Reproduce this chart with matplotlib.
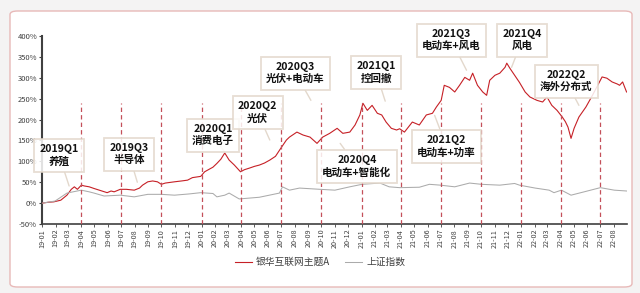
import matplotlib
matplotlib.use("Agg")
import matplotlib.pyplot as plt
import matplotlib.dates as mdates
from matplotlib.patches import FancyBboxPatch
import pandas as pd

plt.rcParams['font.family'] = ['Noto Sans CJK SC', 'DejaVu Sans']

# ---------------- data ----------------
fund_dates = ["2019-01-02","2019-01-15","2019-01-28","2019-02-13","2019-02-27","2019-03-09","2019-03-16","2019-03-23",
    "2019-04-01","2019-04-08","2019-04-19","2019-04-30","2019-05-12","2019-05-30","2019-06-08","2019-06-15","2019-06-29",
    "2019-07-13","2019-07-31","2019-08-12","2019-08-19","2019-08-31","2019-09-11","2019-09-22","2019-10-01","2019-10-10",
    "2019-10-31","2019-11-16","2019-11-30","2019-12-11","2019-12-30",
    "2020-01-08","2020-01-20","2020-01-27","2020-02-05","2020-02-14","2020-02-23","2020-03-04","2020-03-16","2020-03-30",
    "2020-04-08","2020-04-20","2020-05-01","2020-05-12","2020-05-24","2020-06-05","2020-06-18","2020-06-30","2020-07-13",
    "2020-07-20","2020-08-06","2020-08-20","2020-09-05","2020-09-21","2020-10-04","2020-10-20","2020-11-06","2020-11-19",
    "2020-12-05","2020-12-17","2020-12-28",
    "2021-01-04","2021-01-14","2021-01-25","2021-02-06","2021-02-16","2021-02-26","2021-03-10","2021-03-22","2021-03-29",
    "2021-04-09","2021-04-27","2021-05-13","2021-05-29","2021-06-12","2021-06-21","2021-07-02","2021-07-09","2021-07-21",
    "2021-08-02","2021-08-13","2021-08-25","2021-09-05","2021-09-12","2021-09-23","2021-10-05","2021-10-14","2021-10-21",
    "2021-11-02","2021-11-13","2021-11-25","2021-11-29","2021-12-06","2021-12-17","2021-12-28",
    "2022-01-10","2022-01-21","2022-02-06","2022-02-19","2022-03-01","2022-03-12","2022-03-24","2022-04-05","2022-04-12",
    "2022-04-18","2022-04-25","2022-05-02","2022-05-13","2022-05-29","2022-06-13","2022-06-29","2022-07-05","2022-07-16",
    "2022-07-28","2022-08-09","2022-08-14","2022-08-21","2022-08-30"]
fund_values = [0,2,3,7,19,33,39,33,
    43,41,39,35,31,25,29,27,33,
    33,31,36,43,51,53,51,45,48,
    51,53,55,61,64,
    75,82,86,95,105,120,103,91,75,
    80,84,88,91,96,103,112,131,151,
    158,170,163,158,143,158,167,179,167,
    170,187,211,
    239,222,234,215,211,194,179,175,178,
    170,194,187,211,215,230,246,282,277,
    266,282,301,294,311,282,266,258,294,
    306,311,325,335,323,306,289,
    266,254,246,242,254,234,222,206,195,
    182,155,179,206,230,258,290,302,299,
    290,285,282,290,266]

index_dates = ["2019-01-02","2019-01-31","2019-02-27","2019-04-01","2019-04-19","2019-04-30","2019-05-23","2019-06-29",
    "2019-07-31","2019-08-31","2019-10-01","2019-10-31","2019-12-04","2019-12-30","2020-01-27","2020-02-05","2020-02-23",
    "2020-03-04","2020-03-27","2020-05-12","2020-06-27","2020-07-04","2020-07-20","2020-08-12","2020-09-28","2020-11-01",
    "2020-12-05","2021-01-02","2021-02-12","2021-03-05","2021-03-29","2021-05-13","2021-06-05","2021-06-30","2021-08-02",
    "2021-09-05","2021-10-02","2021-11-13","2021-12-17","2021-12-28","2022-02-02","2022-03-06","2022-03-17","2022-04-03",
    "2022-04-25","2022-05-25","2022-07-01","2022-08-02","2022-08-30"]
index_values = [0,5,24,31,27,24,17,19,
    15,21,21,19,22,25,23,15,19,
    24,10,14,24,39,31,36,33,31,
    39,45,48,39,37,38,45,43,39,
    48,45,43,47,43,36,31,25,31,
    19,27,37,31,29]

quarter_lines = ["2019-04-01","2019-07-01","2019-10-01","2020-01-01","2020-04-01","2020-07-01","2020-10-01",
                 "2021-01-01","2021-04-01","2021-07-01","2021-10-01","2022-01-01","2022-04-01","2022-07-01"]

# annotations: label, box-centre date, box-centre value, pointer date, pointer value
ann_labels = ["2019Q1\n养殖","2019Q3\n半导体","2020Q1\n消费电子","2020Q2\n光伏","2020Q3\n光伏+电动车",
              "2021Q1\n控回撤","2020Q4\n电动车+智能化","2021Q2\n电动车+功率","2021Q3\n电动车+风电",
              "2021Q4\n风电","2022Q2\n海外分布式"]
ann_box_dates = ["2019-02-09","2019-07-19","2020-01-27","2020-05-08","2020-08-03","2021-02-03","2020-12-21",
                 "2021-07-14","2021-07-25","2022-01-03","2022-04-14"]
ann_box_vals = [115,117,162,217,311,313,88,136,390,390,292]
ann_pt_dates = ["2019-03-04","2019-08-07","2020-02-23","2020-06-05","2020-09-07","2021-02-24","2020-11-13",
                "2021-06-17","2021-08-29","2021-12-10","2022-05-13"]
ann_pt_vals = [41,50,122,151,246,244,143,210,318,325,234]

series_names = ["银华互联网主题A", "上证指数"]

# ---------------- figure ----------------
W, H = 640, 293
fig = plt.figure(figsize=(W/100, H/100), dpi=100, facecolor='#F4F3F3')
bg = FancyBboxPatch((10/W, 6/H), 622/W, 276/H, boxstyle="round,pad=0,rounding_size=0.012",
                    transform=fig.transFigure, fc='white', ec='#E8B9B8', lw=1.0, zorder=-10)
fig.patches.append(bg)

ax = fig.add_axes([42/W, 1-224/H, (627-42)/W, (224-36)/H])
ax.set_zorder(2)
ax.patch.set_alpha(0)

fd = pd.to_datetime(fund_dates)
idd = pd.to_datetime(index_dates)
red = '#C62026'
grey = '#ABABAB'
ax.plot(fd, fund_values, color=red, lw=0.8, zorder=3, label=series_names[0])
ax.plot(idd, index_values, color=grey, lw=0.75, zorder=3, label=series_names[1])

ax.vlines(pd.to_datetime(quarter_lines), -50, 240, colors='#C4505A', linestyles=(0, (3.5, 2.5)),
          lw=0.9, zorder=4)

ax.set_xlim(pd.Timestamp("2019-01-01"), pd.Timestamp("2022-08-31"))
ax.set_ylim(-50, 400)
ax.set_yticks(range(-50, 401, 50))
ax.set_yticklabels([f"{v}%" for v in range(-50, 401, 50)])
ax.xaxis.set_major_locator(mdates.MonthLocator())
ax.xaxis.set_major_formatter(mdates.DateFormatter('%y-%m'))
for lab in ax.get_xticklabels():
    lab.set_rotation(90)
ax.tick_params(axis='x', labelsize=5.2, colors='#404040', length=2, width=0.6, pad=1.5)
ax.tick_params(axis='y', labelsize=5.5, colors='#404040', length=2, width=0.8, pad=1.5)
for s in ['top', 'right']:
    ax.spines[s].set_visible(False)
ax.spines['left'].set_color('#404040')
ax.spines['left'].set_linewidth(1.5)
ax.spines['bottom'].set_color('#404040')
ax.spines['bottom'].set_linewidth(1.2)

beige = '#E3D8CC'
for lab, bd, bv, pdte, pv in zip(ann_labels, ann_box_dates, ann_box_vals, ann_pt_dates, ann_pt_vals):
    ax.annotate(lab, xy=(pd.Timestamp(pdte), pv), xytext=(pd.Timestamp(bd), bv),
                ha='center', va='center', fontsize=7.6, fontweight='bold', color='#111111',
                linespacing=1.25, annotation_clip=False,
                bbox=dict(boxstyle='square,pad=0.5', fc='white', ec=beige, lw=1.3, alpha=0.85),
                arrowprops=dict(arrowstyle='-', color=beige, lw=1.0, shrinkA=0, shrinkB=0),
                zorder=5)

fig.legend(loc='center', bbox_to_anchor=(0.5, 1-262/H), ncol=2, frameon=False, fontsize=7,
           handlelength=1.8, columnspacing=1.5, handletextpad=0.4, labelcolor='#404040')

fig.savefig('out.png', dpi=100, facecolor=fig.get_facecolor())
